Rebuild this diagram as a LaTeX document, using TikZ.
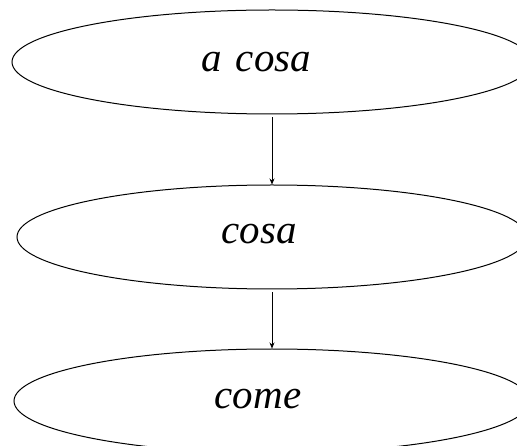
\documentclass[tikz,border=0pt]{standalone}
\usepackage{fontspec}
\setmainfont{Liberation Serif}
\usetikzlibrary{shapes.geometric,arrows.meta,positioning}
\tikzset{
    % Word ellipse style
    term/.style={
        ellipse,
        draw=black,
        line width=1pt,
        inner sep=0pt,
        minimum width=#1,
        minimum height=104pt
    },
    % Word text style
    word/.style={
        anchor=base,
        inner sep=0pt,
        font=\fontsize{41}{49}\selectfont\itshape
    },
    % Arrow style
    link/.style={
        -{Stealth[length=6pt, width=5pt]},
        line width=0.8pt,
        shorten <=3pt
    }
}
\begin{document}
\begin{tikzpicture}[x=1pt,y=1pt]
    \useasboundingbox (0,0) rectangle (517,-446);
    \clip (0,0) rectangle (517,-446);

    % Ellipses
    \node[term=520pt] (acosa) at (272,-62) {};
    \node[term=510pt] (cosa) at (272,-237) {};
    \node[term=516pt] (come) at (272,-401) {};

    % Words
    \node[word] (acosa text) at (256,-72) {a\hspace{0.1em} cosa};
    \node[word] (cosa text) at (259,-244) {cosa};
    \node[word] (come text) at (258,-409) {come};

    % Arrows
    \draw[link] (acosa) -- (cosa);
    \draw[link] (cosa) -- (come);
\end{tikzpicture}
\end{document}
